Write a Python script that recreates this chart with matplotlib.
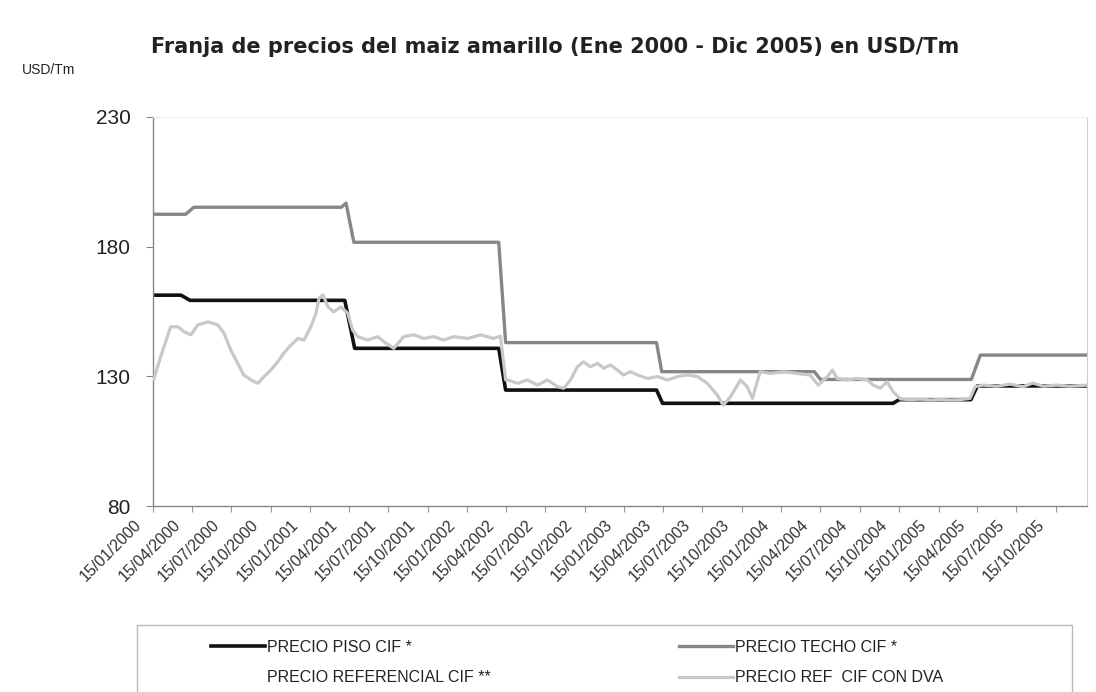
import matplotlib
matplotlib.use("Agg")
import matplotlib.pyplot as plt
import matplotlib.dates as mdates
from matplotlib.patches import Rectangle
import matplotlib.transforms as mtransforms
import pandas as pd

plt.rcParams['font.family'] = ['Liberation Sans', 'DejaVu Sans']

# ---------------- data ----------------
title = "Franja de precios del maiz amarillo (Ene 2000 - Dic 2005) en USD/Tm"
y_unit = "USD/Tm"
y_ticks = [80, 130, 180, 230]

piso_dates = ["2000-01-15", "2000-03-20", "2000-04-10", "2001-04-05", "2001-04-28",
              "2002-03-29", "2002-04-14", "2003-03-31", "2003-04-14", "2004-10-01",
              "2004-10-15", "2005-03-31", "2005-04-15", "2005-12-26"]
piso_vals = [161.3, 161.3, 159.3, 159.3, 140.8,
             140.8, 124.7, 124.7, 119.6, 119.6,
             121.0, 121.0, 126.3, 126.3]

techo_dates = ["2000-01-15", "2000-03-31", "2000-04-19", "2001-03-28", "2001-04-08",
               "2001-04-26", "2002-03-29", "2002-04-14", "2003-03-31", "2003-04-12",
               "2004-04-01", "2004-04-15", "2005-04-01", "2005-04-22", "2005-12-26"]
techo_vals = [192.5, 192.5, 195.2, 195.2, 196.8,
              181.7, 181.7, 143.0, 143.0, 131.8,
              131.8, 128.8, 128.8, 138.2, 138.2]

ref_dates = ["2000-01-17", "2000-02-02", "2000-02-25", "2000-03-13", "2000-03-27",
             "2000-04-12", "2000-04-28", "2000-05-22", "2000-06-14", "2000-06-28",
             "2000-07-14", "2000-07-30", "2000-08-13", "2000-08-30", "2000-09-15",
             "2000-09-29", "2000-10-15", "2000-10-31", "2000-11-14", "2000-12-01",
             "2000-12-17", "2000-12-31", "2001-01-16", "2001-01-28", "2001-02-04",
             "2001-02-13", "2001-02-25", "2001-03-10", "2001-03-27", "2001-04-12",
             "2001-04-23", "2001-05-05", "2001-05-28", "2001-06-21", "2001-07-05",
             "2001-07-28", "2001-08-20", "2001-09-12", "2001-10-06", "2001-10-29",
             "2001-11-21", "2001-12-14", "2002-01-16", "2002-02-15", "2002-03-17",
             "2002-04-02", "2002-04-14", "2002-04-19", "2002-05-12", "2002-06-04",
             "2002-06-27", "2002-07-20", "2002-08-13", "2002-08-27", "2002-09-12",
             "2002-09-28", "2002-10-12", "2002-10-28", "2002-11-14", "2002-11-28",
             "2002-12-14", "2002-12-30", "2003-01-13", "2003-01-29", "2003-02-15",
             "2003-03-10", "2003-04-02", "2003-04-25", "2003-05-19", "2003-06-11",
             "2003-07-04", "2003-07-27", "2003-08-19", "2003-09-02", "2003-09-19",
             "2003-10-12", "2003-10-28", "2003-11-09", "2003-11-27", "2003-12-21",
             "2004-01-20", "2004-02-21", "2004-03-22", "2004-04-10", "2004-05-01",
             "2004-05-13", "2004-05-24", "2004-06-16", "2004-07-10", "2004-08-02",
             "2004-08-16", "2004-09-01", "2004-09-17", "2004-10-01", "2004-10-18",
             "2004-11-10", "2004-12-03", "2004-12-26", "2005-01-18", "2005-02-11",
             "2005-03-06", "2005-03-29", "2005-04-10", "2005-04-28", "2005-05-31",
             "2005-06-30", "2005-07-30", "2005-08-22", "2005-09-15", "2005-10-17",
             "2005-11-16", "2005-12-26"]
ref_dva_vals = [129.0, 137.6, 149.1, 149.1, 147.2,
                146.0, 149.8, 151.0, 149.8, 146.6,
                140.1, 135.0, 130.5, 128.6, 127.3,
                129.9, 132.4, 135.6, 138.9, 142.1,
                144.6, 144.0, 149.1, 154.3, 160.1,
                161.4, 156.8, 154.9, 156.8, 154.3,
                147.9, 145.3, 144.0, 145.3, 143.3,
                140.8, 145.3, 146.0, 144.6, 145.3,
                144.0, 145.3, 144.6, 146.0, 144.6,
                145.5, 128.6, 128.6, 127.3, 128.6,
                126.6, 128.6, 126.0, 125.4, 128.6,
                133.7, 135.6, 133.7, 135.0, 133.1,
                134.4, 132.4, 130.5, 131.8, 130.5,
                129.2, 129.9, 128.6, 129.9, 130.5,
                129.9, 127.3, 122.8, 118.9, 122.1,
                128.6, 126.0, 121.5, 131.8, 131.1,
                131.8, 131.1, 130.5, 126.6, 129.9,
                132.4, 129.2, 128.6, 129.2, 128.6,
                126.6, 125.4, 127.9, 124.1, 121.3,
                121.0, 121.2, 120.9, 121.1, 120.9,
                121.0, 121.5, 126.0, 126.6, 126.2,
                127.0, 126.0, 127.4, 126.2, 126.6,
                126.2, 126.6]
ref_cif_vals = list(ref_dva_vals)

tick_dates = pd.date_range("2000-01-01", "2005-10-01", freq="3MS") + pd.Timedelta(days=14)

labels = ["PRECIO PISO CIF *", "PRECIO TECHO CIF *",
          "PRECIO REFERENCIAL CIF **", "PRECIO REF  CIF CON DVA"]

# ---------------- figure ----------------
W, H = 1096, 692
fig = plt.figure(figsize=(W / 100, H / 100), dpi=100)
ax = fig.add_axes([153 / W, 1 - 506 / H, (1087 - 153) / W, (506 - 117) / H])

pd_piso = pd.to_datetime(piso_dates)
pd_techo = pd.to_datetime(techo_dates)
pd_ref = pd.to_datetime(ref_dates)

l_ref, = ax.plot(pd_ref, ref_cif_vals, color="white", lw=1.0, zorder=1, label=labels[2])
l_piso, = ax.plot(pd_piso, piso_vals, color="#111111", lw=2.6, zorder=2,
                  solid_joinstyle="round", label=labels[0])
l_techo, = ax.plot(pd_techo, techo_vals, color="#878787", lw=2.4, zorder=3,
                   solid_joinstyle="round", label=labels[1])
l_dva, = ax.plot(pd_ref, ref_dva_vals, color="#c8c8c8", lw=2.3, zorder=4,
                 solid_joinstyle="round", label=labels[3])

ax.set_ylim(80, 230)
ax.set_yticks(y_ticks)
ax.set_xlim(pd.Timestamp("2000-01-15"), pd.Timestamp("2005-12-26"))
ax.set_xticks(tick_dates)
ax.xaxis.set_major_formatter(mdates.DateFormatter("%d/%m/%Y"))

ax.tick_params(axis="y", labelsize=15, colors="#222222", length=5, width=0.8,
               pad=11, color="#888888")
ax.tick_params(axis="x", labelsize=11.5, colors="#333333", length=4, width=0.8,
               pad=4, color="#999999")
offset = mtransforms.ScaledTranslation(-9 / 100, 0, fig.dpi_scale_trans)
for lab in ax.get_xticklabels():
    lab.set_rotation(45)
    lab.set_ha("right")
    lab.set_va("top")
    lab.set_transform(lab.get_transform() + offset)

for side in ["left", "bottom"]:
    ax.spines[side].set_color("#888888")
    ax.spines[side].set_linewidth(1.0)
ax.spines["top"].set_color("#eeeeee")
ax.spines["right"].set_color("#d0d0d0")

fig.text(555 / W, 1 - 47 / H, title, ha="center", va="center",
         fontsize=15, fontweight="bold", color="#222222", family="DejaVu Sans")
fig.text(22 / W, 1 - 70 / H, y_unit, ha="left", va="center",
         fontsize=10, color="#222222")

# legend frame (extends past the bottom of the figure)
fig.patches.append(Rectangle((137 / W, -0.05), (1072 - 137) / W, (0.05 + 1 - 625 / H),
                             transform=fig.transFigure, fill=False,
                             edgecolor="#bbbbbb", lw=1.0))

leg_kw = dict(frameon=False, fontsize=11.5, handlelength=3.4, handletextpad=0.1,
              labelspacing=0.95, borderaxespad=0, borderpad=0, labelcolor="#222222")
leg1 = fig.legend([l_piso, l_ref], [labels[0], labels[2]], loc="upper left",
                  bbox_to_anchor=(211 / W, 1 - 640 / H), **leg_kw)
leg2 = fig.legend([l_techo, l_dva], [labels[1], labels[3]], loc="upper left",
                  bbox_to_anchor=(679 / W, 1 - 640 / H), **leg_kw)

fig.savefig("out.png", dpi=100)
